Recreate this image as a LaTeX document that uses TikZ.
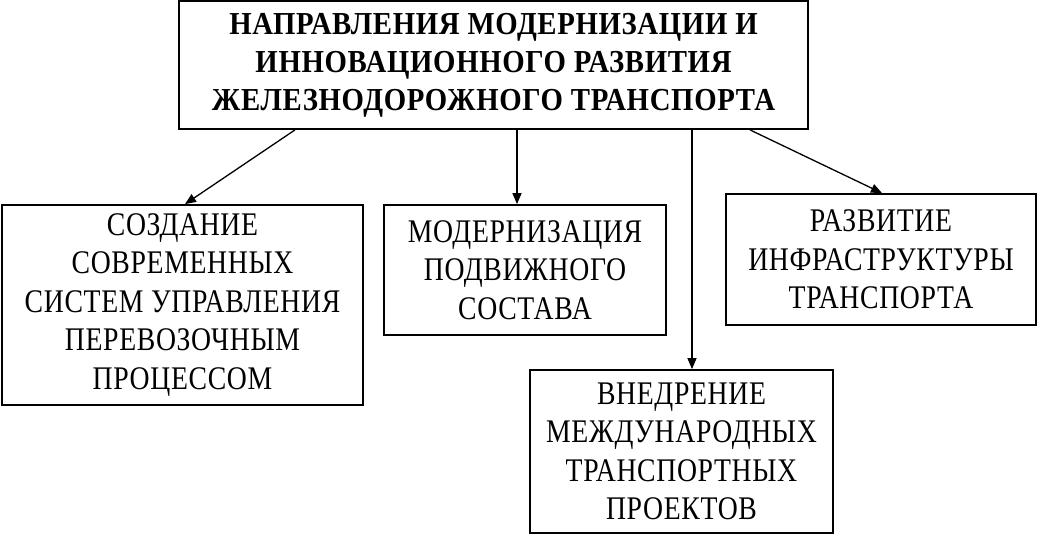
\documentclass[tikz,border=0pt]{standalone}
\usepackage{fontspec}
\setmainfont{Liberation Serif}
\newfontfamily\bodyfont[FakeStretch=0.84,LetterSpace=2]{Liberation Serif}
\newfontfamily\titlefont[FakeStretch=0.9,LetterSpace=2]{Liberation Serif}
\usetikzlibrary{arrows.meta}
\begin{document}
\begin{tikzpicture}[x=1pt,y=-1pt,
  box/.style={draw=black,line width=1.8pt,rectangle,inner sep=0pt,align=center,
    font=\bodyfont\fontsize{33}{38.5}\selectfont},
  arr/.style={line width=1.3pt,-{Triangle[length=11pt,width=9pt]}}]
\useasboundingbox (0,0) rectangle (1041,536);
\node[box,minimum width=629pt,minimum height=128pt,font=\titlefont\bfseries\fontsize{32}{38}\selectfont] (top) at (493.5,65)
  {НАПРАВЛЕНИЯ МОДЕРНИЗАЦИИ И\\ИННОВАЦИОННОГО РАЗВИТИЯ\\ЖЕЛЕЗНОДОРОЖНОГО ТРАНСПОРТА};
\node[box,minimum width=361pt,minimum height=200pt] (left) at (182.5,305)
  {СОЗДАНИЕ\\СОВРЕМЕННЫХ\\СИСТЕМ УПРАВЛЕНИЯ\\ПЕРЕВОЗОЧНЫМ\\ПРОЦЕССОМ};
\node[box,minimum width=282pt,minimum height=130pt] (mid) at (525,270)
  {МОДЕРНИЗАЦИЯ\\ПОДВИЖНОГО\\СОСТАВА};
\node[box,minimum width=310pt,minimum height=131pt] (right) at (881,259.5)
  {РАЗВИТИЕ\\ИНФРАСТРУКТУРЫ\\ТРАНСПОРТА};
\node[box,minimum width=303pt,minimum height=163pt] (bot) at (681.5,451.5)
  {ВНЕДРЕНИЕ\\МЕЖДУНАРОДНЫХ\\ТРАНСПОРТНЫХ\\ПРОЕКТОВ};
\draw[arr] ([xshift=-198.5pt]top.south) -- ([xshift=2.5pt]left.north);
\draw[arr] ([xshift=23.5pt]top.south) -- ([xshift=-8pt]mid.north);
\draw[arr] ([xshift=198.5pt]top.south) -- ([xshift=10.5pt]bot.north);
\draw[arr] ([xshift=256.5pt]top.south) -- ([xshift=1pt]right.north);
\end{tikzpicture}
\end{document}
